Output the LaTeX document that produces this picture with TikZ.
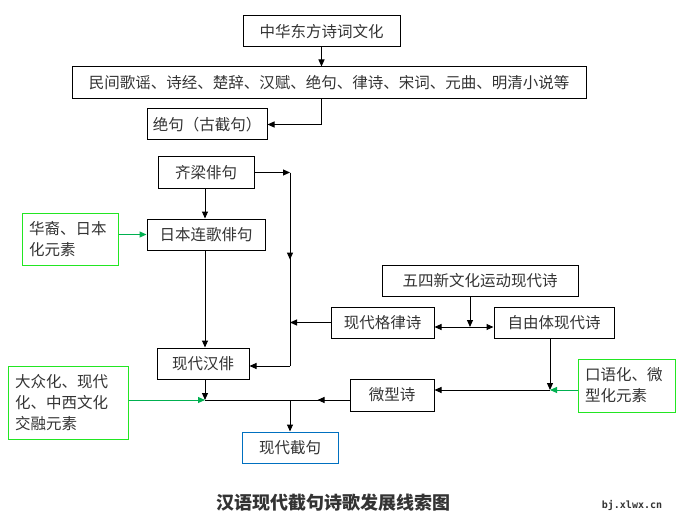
\documentclass[tikz,border=0pt]{standalone}
\usepackage{fontspec}
\setmainfont{Noto Sans CJK SC}
\newfontfamily\wmfont{DejaVu Sans Mono}
\usetikzlibrary{positioning,calc,arrows.meta}
\definecolor{txtgray}{HTML}{333333}
\definecolor{boxgreen}{HTML}{22E622}
\definecolor{arrgreen}{HTML}{00B050}
\definecolor{boxblue}{HTML}{0070C0}

\begin{document}
\begin{tikzpicture}[
    x=1pt,
    y=-1pt,
    font=\fontsize{15.5}{21}\selectfont,
    >={Triangle[length=7pt,width=6pt]},
    stage/.style={
        draw,
        line width=1pt,
        text=txtgray,
        inner sep=0pt,
        minimum height=31pt
    },
    factor/.style={
        draw=boxgreen,
        line width=1pt,
        text=txtgray,
        align=left,
        inner xsep=7pt,
        inner ysep=0pt
    },
    link/.style={
        ->,
        line width=1pt
    },
    greenlink/.style={
        ->,
        line width=1pt,
        draw=arrgreen,
        fill=arrgreen
    }
]
    \useasboundingbox (0,0) rectangle (680,524);

    % ancient line
    \node[stage,minimum width=157pt] (culture) at (321.5,31.5) {中华东方诗词文化};
    \node[stage,minimum width=514pt,minimum height=32pt] (classics) at (329,83) {民间歌谣、诗经、楚辞、汉赋、绝句、律诗、宋词、元曲、明清小说等};
    \node[stage,minimum width=120pt] (jueju) at (207,124.5) {绝句（古截句）};

    % haiku line
    \node[stage,minimum width=96pt] (qiliang) at (206,172.5) {齐梁俳句};
    \node[stage,minimum width=118pt] (renga) at (206,234.5) {日本连歌俳句};
    \node[factor,text width=82pt,minimum height=52pt] (huayi) at (70,239) {华裔、日本\\化元素};
    \node[stage,minimum width=92pt] (hanpai) at (203,363.5) {现代汉俳};

    % modern poetry line
    \node[stage,minimum width=196pt] (wusi) at (480,280.5) {五四新文化运动现代诗};
    \node[stage,minimum width=103pt] (gelv) at (382.5,322.5) {现代格律诗};
    \node[stage,minimum width=120pt] (ziyou) at (554,322.5) {自由体现代诗};
    \node[factor,text width=83pt,minimum height=53pt] (kouyu) at (626.5,385.5) {口语化、微\\型化元素};
    \node[stage,minimum width=84pt,minimum height=32pt] (weixing) at (392,395) {微型诗};

    % result
    \node[factor,text width=106pt,minimum height=73pt] (dazhong) at (68,402.5) {大众化、现代\\化、中西文化\\交融元素};
    \node[stage,draw=boxblue,minimum width=96pt] (jieju) at (290,447.5) {现代截句};

    % junctions
    \coordinate (trunktop) at (290,172.5);
    \coordinate (trunkbot) at (290,366);
    \coordinate (fork) at (470,327);
    \coordinate (rjoin) at (550,390);
    \coordinate (ljoin) at (205,400);

    % connectors
    \draw[link] (culture.south) -- (culture.south |- classics.north);
    \draw[link] (culture.south |- classics.south) |- (jueju.east);
    \draw[link] (qiliang.south -| ljoin) -- (renga.north -| ljoin);
    \draw[link] (qiliang.east) -- (trunktop);
    \draw[line width=1pt] (trunktop) -- (trunkbot);
    \draw[link] (trunktop) -- ($(trunktop)!0.45!(trunkbot)$);
    \draw[link] (trunkbot) -- (hanpai.east |- trunkbot);
    \draw[greenlink] (huayi.east |- renga) -- (renga.west);
    \draw[link] (renga.south -| ljoin) -- (hanpai.north -| ljoin);
    \draw[link] (gelv.west) -- (trunktop |- gelv.west);
    \draw[link] (wusi.south -| fork) -- (fork);
    \draw[link,<->] (gelv.east |- fork) -- (ziyou.west |- fork);
    \draw[link] (ziyou.south -| rjoin) -- (rjoin);
    \draw[greenlink] (kouyu.west |- rjoin) -- (rjoin);
    \draw[link] (rjoin) -- (weixing.east |- rjoin);
    \draw[line width=1pt] (weixing.west |- ljoin) -- (ljoin);
    \draw[link] (weixing.west |- ljoin) -- ++(-32,0);
    \draw[link] (hanpai.south -| ljoin) -- (ljoin);
    \draw[greenlink] (dazhong.east |- ljoin) -- (ljoin);
    \draw[link] (jieju.north |- ljoin) -- (jieju.north);

    % caption
    \node[font=\fontsize{18}{20}\selectfont\bfseries,text=txtgray] (title) at (333,503) {汉语现代截句诗歌发展线索图};
    \node[font=\wmfont\fontsize{10}{12}\selectfont\bfseries,text=txtgray] (mark) at (632,505) {bj.xlwx.cn};
\end{tikzpicture}
\end{document}
